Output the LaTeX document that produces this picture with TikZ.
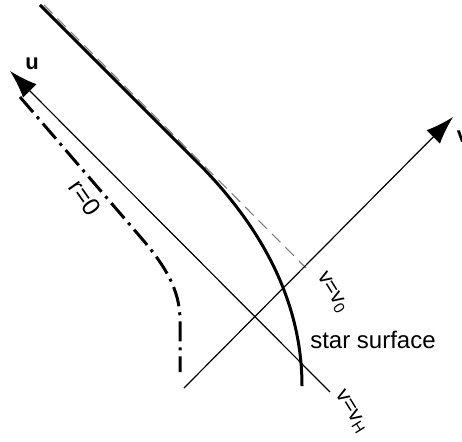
\documentclass[tikz,border=0pt]{standalone}
\usepackage{fontspec}
\setmainfont{Liberation Sans}
\usetikzlibrary{arrows.meta}

\begin{document}
\begin{tikzpicture}[x=1pt,y=-1pt,
      axis/.style={line width=1.2pt,-{Latex[length=28pt,width=19pt]}},
      star/.style={line width=3pt},
      horizon/.style={line width=1.1pt,gray,dash pattern=on 12pt off 7pt},
      sing/.style={line width=3pt,dash pattern=on 20pt off 6pt on 3pt off 6pt},
      lab/.style={font=\fontsize{22}{26}\selectfont,inner sep=0pt}
    ]
      \useasboundingbox (0,0) rectangle (462,441);
      \coordinate (uend) at (330,392);
      \coordinate (utip) at (10,71);
      \coordinate (vend) at (184,388);
      \coordinate (vtip) at (453,117);
      \coordinate (startop) at (40,5);
      \coordinate (starbend) at (190,155);
      \coordinate (starbot) at (302,386);
      \coordinate (hortop) at (44,5);
      \coordinate (horbot) at (306,268);
      \coordinate (rtop) at (20,97);
      \coordinate (rbend) at (143,240);
      \coordinate (rturn) at (180,320);
      \coordinate (rbot) at (180,372);
      \draw[horizon] (hortop) -- (horbot);
      \draw[axis] (uend) -- (utip);
      \draw[axis] (vend) -- (vtip);
      \draw[star] (startop) -- (starbend) .. controls (250,213) and (302,290) .. (starbot);
      \draw[sing] (rtop) -- (rbend) .. controls (165,266) and (180,290) .. (rturn) -- (rbot);
      \node[lab] (ulab) at (32,64) {\textbf{u}};
      \node[lab] (vlab) at (463,137) {\textbf{v}};
      \node[lab,font=\fontsize{25}{29}\selectfont,rotate=-55] (rlab) at (85,198) {r=0};
      \node[lab,rotate=-58] (v0lab) at (332,293) {v=v\textsubscript{0}};
      \node[lab,rotate=-58] (vHlab) at (351,412) {v=v\textsubscript{H}};
      \node[lab,font=\fontsize{24}{28}\selectfont] (surflab) at (373,340) {star surface};
    \end{tikzpicture}
\end{document}
